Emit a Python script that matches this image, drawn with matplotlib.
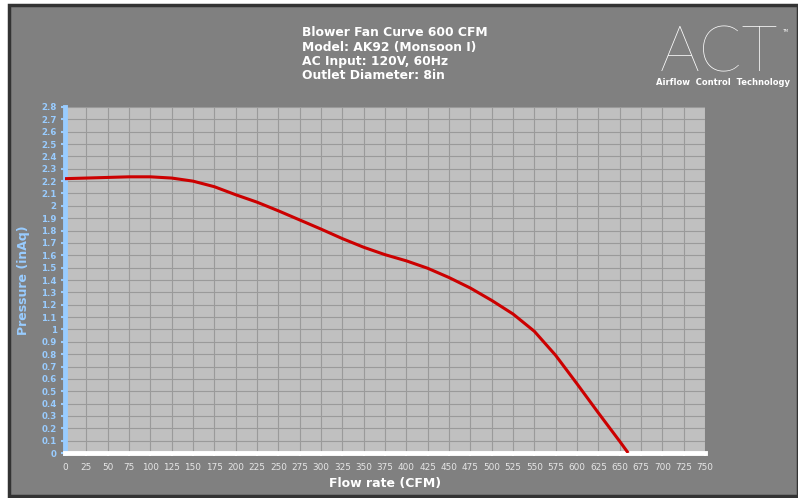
import numpy as np
import matplotlib.pyplot as plt
from matplotlib.patches import Rectangle

# fan curve
flow = [0, 25, 50, 75, 100, 125, 150, 175, 200, 225, 250, 275, 300, 325,
        350, 375, 400, 425, 450, 475, 500, 525, 550, 575, 600, 625, 650, 660]
pressure = [2.22, 2.225, 2.23, 2.235, 2.235, 2.225, 2.20, 2.155, 2.09, 2.03,
            1.96, 1.886, 1.812, 1.735, 1.665, 1.605, 1.555, 1.495, 1.42, 1.335,
            1.235, 1.125, 0.985, 0.79, 0.56, 0.325, 0.095, 0.0]

title_lines = ["Blower Fan Curve 600 CFM", "Model: AK92 (Monsoon I)",
               "AC Input: 120V, 60Hz", "Outlet Diameter: 8in"]

W, H = 798, 498
fig = plt.figure(figsize=(W / 100, H / 100), dpi=100, facecolor="white")

# gray panel with dark frame
fig.patches.append(Rectangle((8.5 / W, 2.5 / H), (W - 8.5) / W, (H - 8) / H,
                             transform=fig.transFigure, facecolor="#808080",
                             edgecolor="#333333", linewidth=2.5, zorder=-10))

ax = fig.add_axes([65 / W, (H - 453) / H, 640 / W, 346 / H])
ax.set_zorder(5)
ax.set_facecolor("#c0c0c0")
ax.plot(flow, pressure, color="#cc0000", linewidth=2.2, solid_capstyle="butt",
        solid_joinstyle="round", zorder=3)

ax.set_xlim(0, 750)
ax.set_ylim(0, 2.8)
xt = np.arange(0, 751, 25)
yt = np.round(np.arange(0, 2.81, 0.1), 1)
ax.set_xticks(xt)
ax.set_yticks(yt)
ax.set_xticklabels([str(v) for v in xt], fontsize=6.4, color="#e6e6e6")
ax.set_yticklabels([f"{v:g}" for v in yt], fontsize=6.2, color="#99ccff",
                   fontweight="bold")
ax.grid(True, color="#9a9a9a", linewidth=0.8)
ax.set_axisbelow(True)

for s in ["top", "right"]:
    ax.spines[s].set_visible(False)
ax.spines["left"].set_color("#99ccff")
ax.spines["left"].set_linewidth(3.5)
ax.spines["bottom"].set_color("white")
ax.spines["bottom"].set_linewidth(3.5)
ax.tick_params(axis="y", colors="#99ccff", length=3, width=1.5, pad=3,
               labelcolor="#99ccff")
ax.tick_params(axis="x", colors="white", length=2, width=1.5, pad=5,
               labelcolor="#e6e6e6")

ax.set_xlabel("Flow rate (CFM)", fontsize=9, fontweight="bold", color="white",
              labelpad=4)
ax.set_ylabel("Pressure (inAq)", fontsize=9, fontweight="bold",
              color="#99ccff", labelpad=8)

# title block
for i, line in enumerate(title_lines):
    fig.text(302 / W, 1 - (33 + i * 14.3) / H, line, fontsize=8.9,
             fontweight="bold", color="white", va="center", ha="left")

# logo
fig.text(719 / W, 1 - 71 / H, "ACT", fontsize=45, color="white",
         family="Lato", fontweight="light", ha="center", va="baseline")
fig.text(785 / W, 1 - 31 / H, "TM", fontsize=3, color="white", ha="center",
         va="center")
fig.text(723 / W, 1 - 82 / H, "Airflow  Control  Technology", fontsize=6,
         fontweight="bold", color="white", ha="center", va="center")

fig.savefig("out.png", dpi=100, facecolor=fig.get_facecolor())
